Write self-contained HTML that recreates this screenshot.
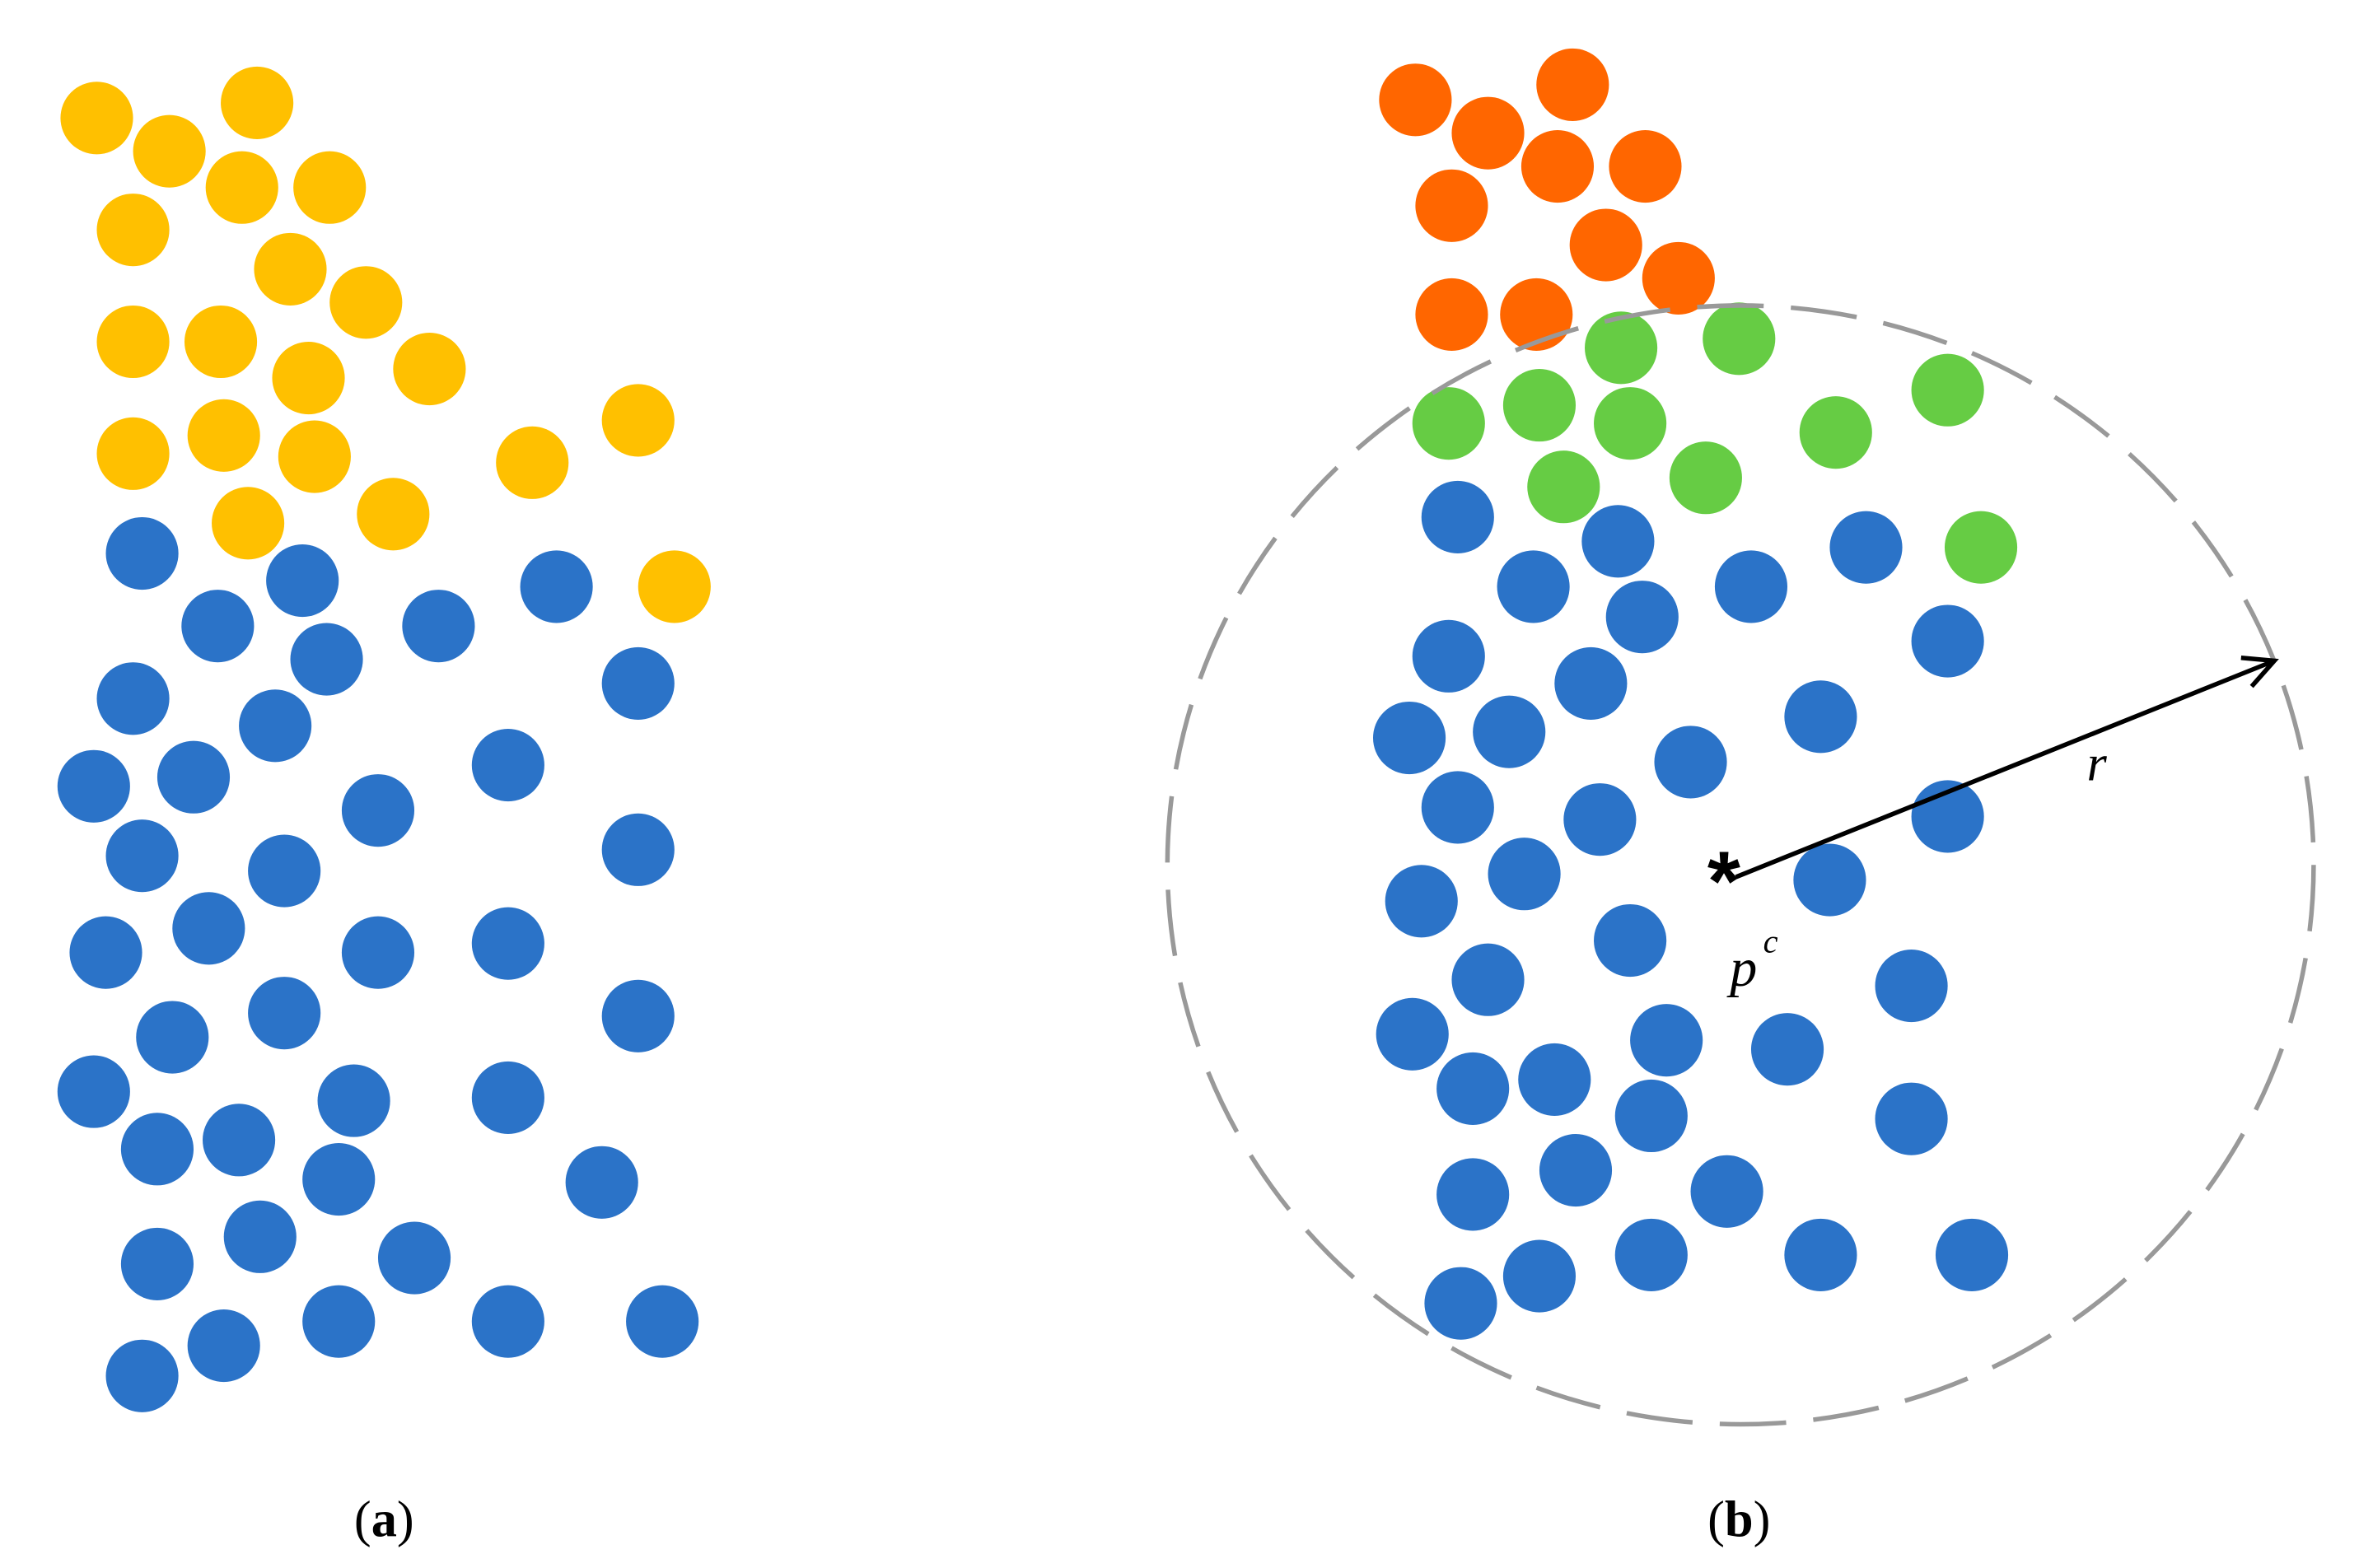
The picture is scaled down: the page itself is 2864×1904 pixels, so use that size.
<!DOCTYPE html>
<html><head><meta charset="utf-8"><style>
html,body{margin:0;padding:0;background:#fff;}
svg{display:block;}
</style></head><body>
<svg width="2864" height="1904" viewBox="0 0 1560 1037" xmlns="http://www.w3.org/2000/svg">
<rect width="1560" height="1037" fill="#fff"/>
<g fill="#FFC000">
<circle cx="64" cy="78" r="24"/><circle cx="170" cy="68" r="24"/><circle cx="112" cy="100" r="24"/><circle cx="160" cy="124" r="24"/><circle cx="218" cy="124" r="24"/><circle cx="88" cy="152" r="24"/><circle cx="192" cy="178" r="24"/><circle cx="242" cy="200" r="24"/><circle cx="88" cy="226" r="24"/><circle cx="146" cy="226" r="24"/><circle cx="204" cy="250" r="24"/><circle cx="284" cy="244" r="24"/><circle cx="88" cy="300" r="24"/><circle cx="148" cy="288" r="24"/><circle cx="208" cy="302" r="24"/><circle cx="352" cy="306" r="24"/><circle cx="422" cy="278" r="24"/><circle cx="164" cy="346" r="24"/><circle cx="260" cy="340" r="24"/><circle cx="446" cy="388" r="24"/>
</g>
<g fill="#2B73C8">
<circle cx="94" cy="366" r="24"/><circle cx="200" cy="384" r="24"/><circle cx="144" cy="414" r="24"/><circle cx="216" cy="436" r="24"/><circle cx="290" cy="414" r="24"/><circle cx="368" cy="388" r="24"/><circle cx="88" cy="462" r="24"/><circle cx="182" cy="480" r="24"/><circle cx="422" cy="452" r="24"/><circle cx="62" cy="520" r="24"/><circle cx="128" cy="514" r="24"/><circle cx="250" cy="536" r="24"/><circle cx="336" cy="506" r="24"/><circle cx="94" cy="566" r="24"/><circle cx="188" cy="576" r="24"/><circle cx="422" cy="562" r="24"/><circle cx="70" cy="630" r="24"/><circle cx="138" cy="614" r="24"/><circle cx="250" cy="630" r="24"/><circle cx="336" cy="624" r="24"/><circle cx="114" cy="686" r="24"/><circle cx="188" cy="670" r="24"/><circle cx="422" cy="672" r="24"/><circle cx="62" cy="722" r="24"/><circle cx="234" cy="728" r="24"/><circle cx="336" cy="726" r="24"/><circle cx="104" cy="760" r="24"/><circle cx="158" cy="754" r="24"/><circle cx="224" cy="780" r="24"/><circle cx="398" cy="782" r="24"/><circle cx="104" cy="836" r="24"/><circle cx="172" cy="818" r="24"/><circle cx="274" cy="832" r="24"/><circle cx="94" cy="910" r="24"/><circle cx="148" cy="890" r="24"/><circle cx="224" cy="874" r="24"/><circle cx="336" cy="874" r="24"/><circle cx="438" cy="874" r="24"/>
</g>
<g fill="#FF6600">
<circle cx="936" cy="66" r="24"/><circle cx="1040" cy="56" r="24"/><circle cx="984" cy="88" r="24"/><circle cx="1030" cy="110" r="24"/><circle cx="1088" cy="110" r="24"/><circle cx="960" cy="136" r="24"/><circle cx="1062" cy="162" r="24"/><circle cx="1110" cy="184" r="24"/><circle cx="960" cy="208" r="24"/><circle cx="1016" cy="208" r="24"/>
</g>
<g fill="#66CC44">
<circle cx="1072" cy="230" r="24"/><circle cx="1150" cy="224" r="24"/><circle cx="958" cy="280" r="24"/><circle cx="1018" cy="268" r="24"/><circle cx="1078" cy="280" r="24"/><circle cx="1214" cy="286" r="24"/><circle cx="1288" cy="258" r="24"/><circle cx="1034" cy="322" r="24"/><circle cx="1128" cy="316" r="24"/><circle cx="1310" cy="362" r="24"/>
</g>
<g fill="#2B73C8">
<circle cx="964" cy="342" r="24"/><circle cx="1070" cy="358" r="24"/><circle cx="1014" cy="388" r="24"/><circle cx="1086" cy="408" r="24"/><circle cx="1158" cy="388" r="24"/><circle cx="1234" cy="362" r="24"/><circle cx="958" cy="434" r="24"/><circle cx="1052" cy="452" r="24"/><circle cx="1288" cy="424" r="24"/><circle cx="932" cy="488" r="24"/><circle cx="998" cy="484" r="24"/><circle cx="1118" cy="504" r="24"/><circle cx="1204" cy="474" r="24"/><circle cx="964" cy="534" r="24"/><circle cx="1058" cy="542" r="24"/><circle cx="1288" cy="540" r="24"/><circle cx="940" cy="596" r="24"/><circle cx="1008" cy="578" r="24"/><circle cx="1210" cy="582" r="24"/><circle cx="1078" cy="622" r="24"/><circle cx="984" cy="648" r="24"/><circle cx="1264" cy="652" r="24"/><circle cx="934" cy="684" r="24"/><circle cx="1102" cy="688" r="24"/><circle cx="1182" cy="694" r="24"/><circle cx="974" cy="720" r="24"/><circle cx="1028" cy="714" r="24"/><circle cx="1092" cy="738" r="24"/><circle cx="1264" cy="740" r="24"/><circle cx="974" cy="790" r="24"/><circle cx="1042" cy="774" r="24"/><circle cx="1142" cy="788" r="24"/><circle cx="966" cy="862" r="24"/><circle cx="1018" cy="844" r="24"/><circle cx="1092" cy="830" r="24"/><circle cx="1204" cy="830" r="24"/><circle cx="1304" cy="830" r="24"/>
</g>
<ellipse cx="1151" cy="572" rx="379" ry="370" fill="none" stroke="#999" stroke-width="3" stroke-dasharray="44 18"/>
<line x1="1148" y1="580" x2="1504" y2="437" stroke="#000" stroke-width="3"/>
<polyline points="1482,435 1504,437 1489,454" fill="none" stroke="#000" stroke-width="3"/>
<text x="1140" y="602" font-family="Liberation Sans, sans-serif" font-size="56" font-weight="bold" text-anchor="middle">*</text>
<text x="1380" y="516" font-family="Liberation Serif, serif" font-size="34" font-style="italic">r</text>
<text x="1144" y="652" font-family="Liberation Serif, serif" font-size="36" font-style="italic">p</text>
<text x="1166" y="630" font-family="Liberation Serif, serif" font-size="22" font-style="italic">c</text>
<text x="254" y="1016" font-family="Liberation Serif, serif" font-size="34" text-anchor="middle">(<tspan font-weight="bold">a</tspan>)</text>
<text x="1150" y="1016" font-family="Liberation Serif, serif" font-size="34" text-anchor="middle">(<tspan font-weight="bold">b</tspan>)</text>
</svg>
</body></html>
